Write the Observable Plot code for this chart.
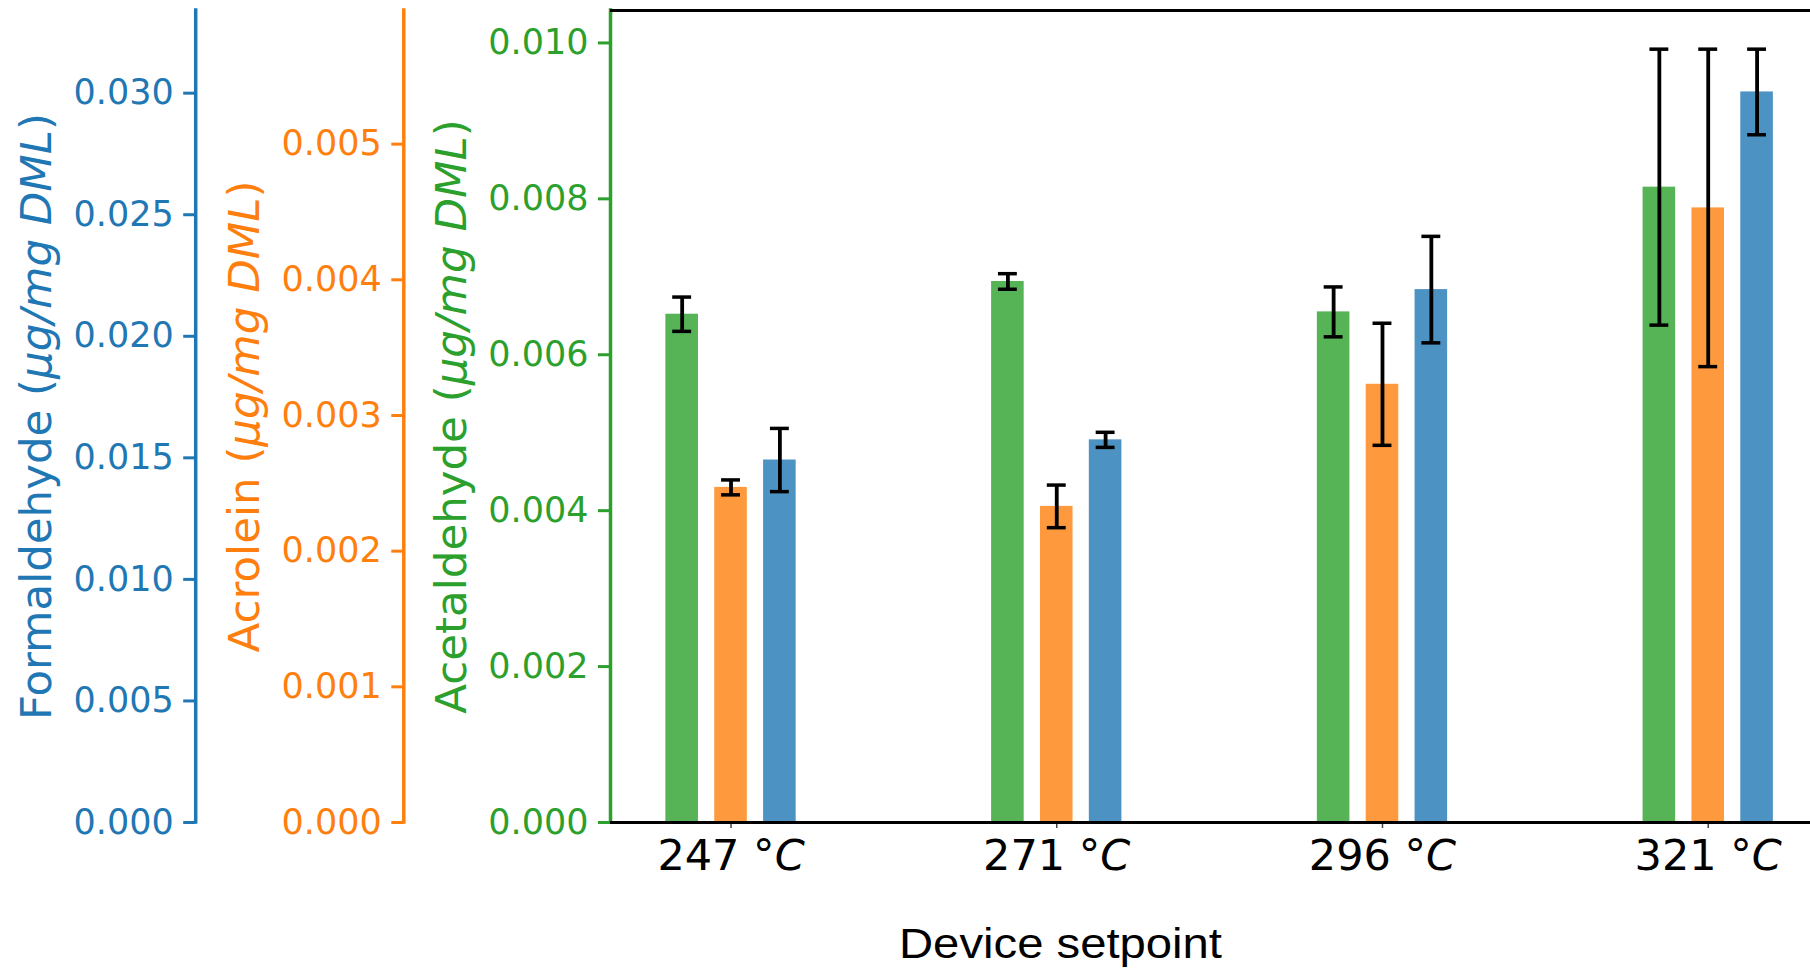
<!DOCTYPE html>
<html>
<head>
<meta charset="utf-8">
<script src="https://cdn.jsdelivr.net/npm/d3@7"></script>
<script src="https://cdn.jsdelivr.net/npm/@observablehq/plot@0.6"></script>
<style>
  html, body { margin: 0; padding: 0; background: #fff; overflow: hidden; }
  #chart { position: relative; width: 1810px; height: 972px; background: #fff; }
  #chart svg { position: absolute; left: 0; top: 0; }
</style>
</head>
<body>
<div id="chart"></div>
<script>
// Device setpoints (x categories)
const setpoints = [247, 271, 296, 321];

// Aldehyde yields (µg per mg DML) and error half-widths
const acetaldehyde    = [0.00652, 0.00694, 0.00655, 0.00815];
const acetaldehydeErr = [0.00022, 0.00010, 0.00032, 0.00177];
const acrolein        = [0.00247, 0.00233, 0.00323, 0.00453];
const acroleinErr     = [0.000055, 0.000157, 0.00045, 0.00117];
const formaldehyde    = [0.01491, 0.01574, 0.02192, 0.03005];
const formaldehydeErr = [0.00130, 0.00031, 0.00219, 0.00176];

// Tick values of the three y axes
const acetaldehydeTicks = [0, 0.002, 0.004, 0.006, 0.008, 0.010];
const acroleinTicks     = [0, 0.001, 0.002, 0.003, 0.004, 0.005];
const formaldehydeTicks = [0, 0.005, 0.010, 0.015, 0.020, 0.025, 0.030];

const unit = "μg/mg DML";
const xLabel = "Device setpoint";

// Layout
const W = 1810, H = 972;
const M = {left: 610, right: 0, top: 10, bottom: 150};
const xDomain = [-0.37, 3.314];
const barWidth = 0.1;
const capHalf = 0.029;

const series = [
  {name: "Acetaldehyde", values: acetaldehyde, errs: acetaldehydeErr, ticks: acetaldehydeTicks,
   offset: -0.15, line: "#2ca02c", fill: "#56b356", axisDx: 0, titleDx: -145},
  {name: "Acrolein", values: acrolein, errs: acroleinErr, ticks: acroleinTicks,
   offset: 0, line: "#ff7f0e", fill: "#ff993e", axisDx: -206.7, titleDx: -351.7},
  {name: "Formaldehyde", values: formaldehyde, errs: formaldehydeErr, ticks: formaldehydeTicks,
   offset: 0.15, line: "#1f77b4", fill: "#4c92c3", axisDx: -414.8, titleDx: -560}
];

const chart = document.getElementById("chart");

series.forEach((s, k) => {
  const rows = setpoints.map((t, i) => ({i, v: s.values[i], e: s.errs[i]}));
  const yTop = d3.max(rows, r => r.v + r.e) * 1.05;
  const cx = r => r.i + s.offset;

  const marks = [
    Plot.rect(rows, {
      x1: r => cx(r) - barWidth / 2, x2: r => cx(r) + barWidth / 2,
      y1: 0, y2: "v", fill: s.fill
    }),
    Plot.ruleX(rows, {x: cx, y1: r => r.v - r.e, y2: r => r.v + r.e, stroke: "black", strokeWidth: 3.8}),
    Plot.ruleY(rows, {y: r => r.v + r.e, x1: r => cx(r) - capHalf, x2: r => cx(r) + capHalf, stroke: "black", strokeWidth: 3.5}),
    Plot.ruleY(rows, {y: r => r.v - r.e, x1: r => cx(r) - capHalf, x2: r => cx(r) + capHalf, stroke: "black", strokeWidth: 3.5}),
    // y spine for this series
    Plot.ruleX([xDomain[0]], {y1: 0, y2: yTop, dx: s.axisDx, stroke: s.line, strokeWidth: 3.5, strokeLinecap: "square"}),
    Plot.axisY({
      ticks: s.ticks, tickFormat: d3.format(".3f"), anchor: "left", dx: s.axisDx,
      tickSize: 12, tickPadding: 10, fontSize: 35, color: s.line, strokeWidth: 3, label: null
    }),
    Plot.text([`${s.name} (${unit})`], {
      frameAnchor: "left", rotate: -90, dx: s.titleDx, lineAnchor: "bottom",
      textAnchor: "middle", fontSize: 43.5, fill: s.line
    })
  ];

  if (k === 0) {
    marks.push(
      Plot.axisX({
        ticks: setpoints.map((t, i) => i), tickFormat: i => `${setpoints[i]} °C`,
        tickSize: 6, tickPadding: 11, fontSize: 43, stroke: "#444", strokeWidth: 1.5, fill: "black", label: null
      }),
      Plot.text([xLabel], {
        frameAnchor: "bottom", dx: 1060 - (M.left + W) / 2, dy: 135, lineAnchor: "bottom",
        fontSize: 42, fontFamily: "Liberation Sans, Arial, sans-serif", fill: "black"
      })
    );
  }
  if (k === series.length - 1) {
    // black top and bottom spines over the bars
    marks.push(
      Plot.ruleY([0, yTop], {stroke: "black", strokeWidth: 3.2})
    );
  }

  const svg = Plot.plot({
    width: W, height: H,
    marginLeft: M.left, marginRight: M.right, marginTop: M.top, marginBottom: M.bottom,
    x: {type: "linear", domain: xDomain, axis: null},
    y: {domain: [0, yTop], axis: null},
    style: {fontFamily: "DejaVu Sans", background: "transparent", overflow: "visible"},
    marks
  });
  chart.appendChild(svg);
});

// Italic math parts of the text: units in axis titles, the C of °C, and the x label width
const titleRe = new RegExp(`^(.*\\()(${unit})(\\))$`);
chart.querySelectorAll("text").forEach(t => {
  const s = t.textContent;
  let m;
  if ((m = s.match(titleRe))) {
    t.textContent = "";
    const a = document.createElementNS("http://www.w3.org/2000/svg", "tspan");
    a.textContent = m[1];
    const b = document.createElementNS("http://www.w3.org/2000/svg", "tspan");
    b.textContent = m[2];
    b.setAttribute("font-style", "italic");
    const c = document.createElementNS("http://www.w3.org/2000/svg", "tspan");
    c.textContent = m[3];
    t.append(a, b, c);
  } else if ((m = s.match(/^(\d+ °)(C)$/))) {
    t.textContent = "";
    const a = document.createElementNS("http://www.w3.org/2000/svg", "tspan");
    a.textContent = m[1];
    const b = document.createElementNS("http://www.w3.org/2000/svg", "tspan");
    b.textContent = m[2];
    b.setAttribute("font-style", "italic");
    t.append(a, b);
  } else if (s === xLabel) {
    t.setAttribute("textLength", 323);
    t.setAttribute("lengthAdjust", "spacingAndGlyphs");
  }
});
</script>
</body>
</html>
